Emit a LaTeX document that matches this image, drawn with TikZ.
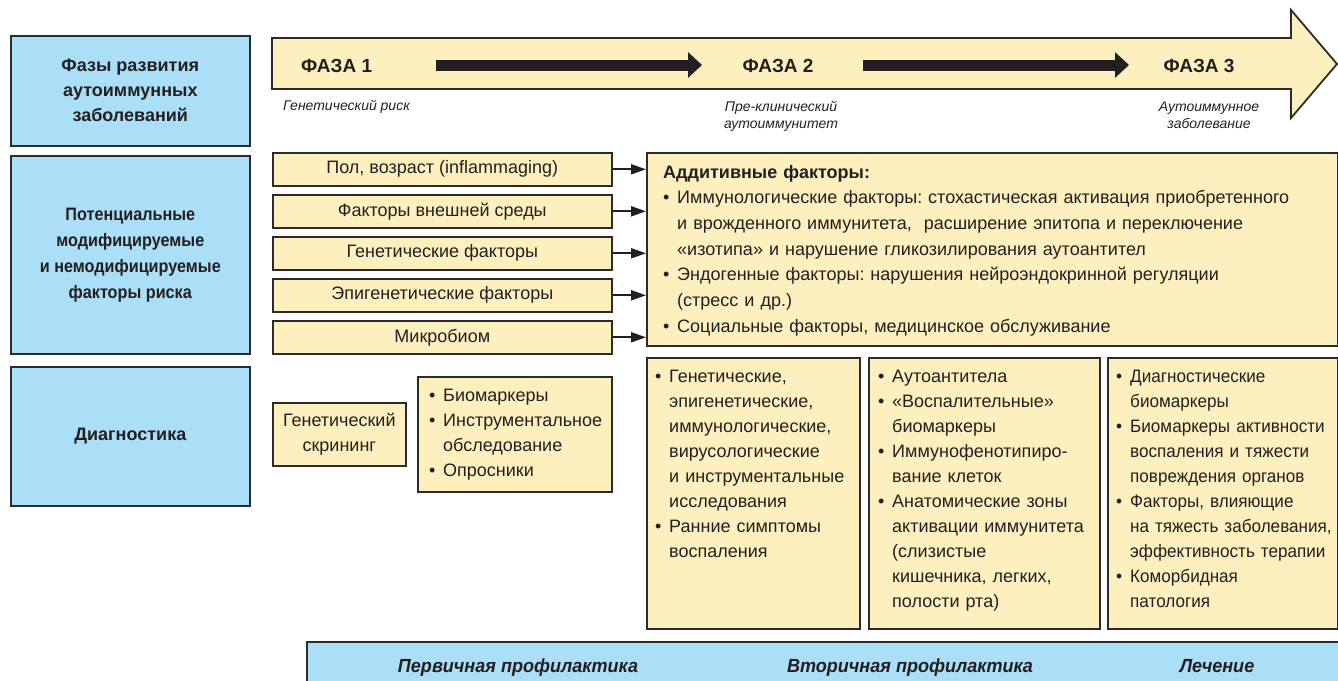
\documentclass[tikz,border=0pt]{standalone}
\usepackage{fontspec}
\setmainfont{Liberation Sans}
\usetikzlibrary{arrows.meta}
\definecolor{bluef}{HTML}{ABDEF7}
\definecolor{yelf}{HTML}{FEF0BE}
\definecolor{edge}{HTML}{2B2B2B}
\definecolor{ink}{HTML}{231F20}
\newcommand\bu{\makebox[14pt][l]{•}}
\newcommand\ii{\makebox[14pt][l]{}}
\newcommand\fs[2]{\fontsize{#1}{#2}\selectfont}
\frenchspacing
\begin{document}
\begin{tikzpicture}[x=1pt,y=-1pt,
  box/.style={draw=edge, line width=1.6pt, rectangle, inner sep=0pt, anchor=north west},
  bluebox/.style={box, fill=bluef, text=ink, font=\bfseries\fs{18}{25}, align=center},
  yelbox/.style={box, fill=yelf, text=ink, font=\fs{18}{25}, align=center},
  txt/.style={inner sep=0pt, anchor=base west, text=ink, font=\fs{18}{25}, align=left},
  phase/.style={inner sep=0pt, text=ink, font=\bfseries\fs{19}{23}},
  sub/.style={inner sep=0pt, text=ink, font=\itshape\fs{14}{17}},
  bottomlbl/.style={inner sep=0pt, anchor=base, text=ink, font=\bfseries\itshape\fs{19}{24}\addfontfeature{FakeStretch=0.95}},
  fa/.style={draw=ink, line width=2pt, -{Triangle[length=15pt,width=10pt]}},
  bigarrow/.style={draw=ink, line width=11pt, -{Triangle[length=14pt,width=25pt]}}
]
\useasboundingbox (0,0) rectangle (1338,680);

% left headers
\node[bluebox, minimum width=239pt, minimum height=110pt] (hphase) at (10,35)
  {Фазы развития\\аутоиммунных\\заболеваний};
\node[bluebox, minimum width=239pt, minimum height=198pt, font=\bfseries\fs{18}{26}\addfontfeature{FakeStretch=0.9}] (hrisk) at (10,155)
  {Потенциальные\\модифицируемые\\и немодифицируемые\\факторы риска};
\node[bluebox, minimum width=239pt, minimum height=139pt] (hdiag) at (10,366) {Диагностика};

% phase arrow
\draw[draw=edge, line width=1.8pt, fill=yelf, line join=miter]
  (272,38) -- (1291,38) -- (1291,10) -- (1337,64) -- (1291,118) -- (1291,89) -- (272,89) -- cycle;
\node[phase, anchor=base west] (p1) at (301,72) {ФАЗА 1};
\node[phase, anchor=base] (p2) at (778,72) {ФАЗА 2};
\node[phase, anchor=base] (p3) at (1199,72) {ФАЗА 3};
\coordinate (a1s) at (436,65);
\coordinate (a1e) at (702,65);
\coordinate (a2s) at (863,65);
\coordinate (a2e) at (1129,65);
\draw[bigarrow] (a1s) -- (a1e);
\draw[bigarrow] (a2s) -- (a2e);
\node[sub, anchor=base west] (s1) at (283,110) {Генетический риск};
\node[sub, anchor=base, text width=160pt, align=center] (s2) at (781,111) {Пре-клинический\\аутоиммунитет};
\node[sub, anchor=base, text width=160pt, align=center] (s3) at (1209,111) {Аутоиммунное\\заболевание};

% risk factors
\node[yelbox, minimum width=339pt, minimum height=33pt] (f1) at (272,152) {Пол, возраст (inflammaging)};
\node[yelbox, minimum width=339pt, minimum height=33pt] (f2) at (272,194) {Факторы внешней среды};
\node[yelbox, minimum width=339pt, minimum height=33pt] (f3) at (272,236) {Генетические факторы};
\node[yelbox, minimum width=339pt, minimum height=33pt] (f4) at (272,278) {Эпигенетические факторы};
\node[yelbox, minimum width=339pt, minimum height=33pt] (f5) at (272,320) {Микробиом};

\node[box, fill=yelf, minimum width=691pt, minimum height=193pt] (add) at (646,152) {};
\node[txt, text width=670pt, font=\fs{18}{25.7}] (addt) at (663,178)
  {\textbf{Аддитивные факторы:}\\
   \bu Иммунологические факторы: стохастическая активация приобретенного\\
   \ii и врожденного иммунитета,\ \ расширение эпитопа и переключение\\
   \ii «изотипа» и нарушение гликозилирования аутоантител\\
   \bu Эндогенные факторы: нарушения нейроэндокринной регуляции\\
   \ii (стресс и др.)\\
   \bu Социальные факторы, медицинское обслуживание};

\foreach \f in {f1,f2,f3,f4,f5}
  \draw[fa] (\f.east) -- (\f.east -| add.west);

% diagnostics
\node[yelbox, minimum width=133pt, minimum height=63pt, text width=133pt] (dgen) at (272,402) {Генетический\\скрининг};
\node[box, fill=yelf, minimum width=194pt, minimum height=115pt] (dbio) at (417,376) {};
\node[txt, text width=180pt] (dbiot) at (429,401)
  {\bu Биомаркеры\\ \bu Инструментальное\\ \ii обследование\\ \bu Опросники};

\node[box, fill=yelf, minimum width=213pt, minimum height=271pt] (c1) at (646,357) {};
\node[txt, text width=300pt] (c1t) at (655,382)
  {\bu Генетические,\\ \ii эпигенетические,\\ \ii иммунологические,\\ \ii вирусологические\\
   \ii и инструментальные\\ \ii исследования\\ \bu Ранние симптомы\\ \ii воспаления};
\node[box, fill=yelf, minimum width=231pt, minimum height=271pt] (c2) at (868,357) {};
\node[txt, text width=300pt] (c2t) at (878,382)
  {\bu Аутоантитела\\ \bu «Воспалительные»\\ \ii биомаркеры\\ \bu Иммунофенотипиро-\\
   \ii вание клеток\\ \bu Анатомические зоны\\ \ii активации иммунитета\\ \ii (слизистые\\
   \ii кишечника, легких,\\ \ii полости рта)};
\node[box, fill=yelf, minimum width=230pt, minimum height=271pt] (c3) at (1107,357) {};
\node[txt, text width=300pt, font=\fs{18}{25}\addfontfeature{FakeStretch=0.95}] (c3t) at (1116,382)
  {\bu Диагностические\\ \ii биомаркеры\\ \bu Биомаркеры активности\\ \ii воспаления и тяжести\\
   \ii повреждения органов\\ \bu Факторы, влияющие\\ \ii на тяжесть заболевания,\\
   \ii эффективность терапии\\ \bu Коморбидная\\ \ii патология};

% bottom bar
\node[box, fill=bluef, minimum width=1034pt, minimum height=43pt] (bar) at (306,641) {};
\node[bottomlbl] (b1) at (518,672) {Первичная профилактика};
\node[bottomlbl] (b2) at (910,672) {Вторичная профилактика};
\node[bottomlbl] (b3) at (1217,672) {Лечение};
\end{tikzpicture}
\end{document}
